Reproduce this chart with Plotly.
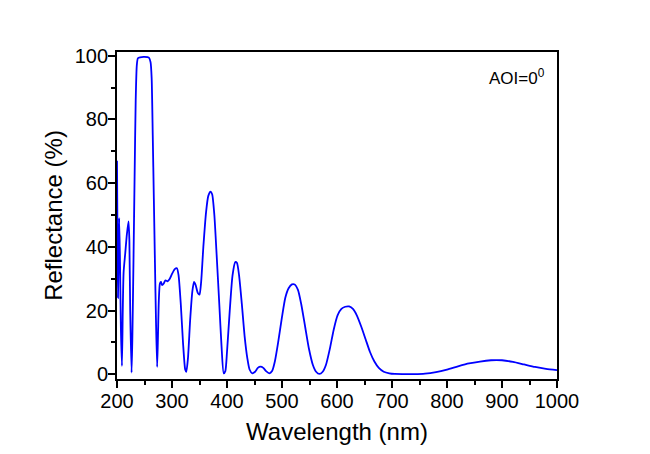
import plotly.graph_objects as go

wavelength = [200, 201, 201.8, 203, 204, 205.5, 207, 209, 210.5, 212, 215, 218, 221, 222.5, 224, 226.5,
              228, 230, 232, 234, 236, 238, 242, 250, 258, 261, 263, 265, 267, 269, 271, 273,
              274.5, 276, 278, 280, 282, 285, 288, 292, 296, 300, 305, 309, 312, 316, 320, 324, 326,
              329, 333, 337, 340, 343, 347, 350, 353, 357, 362, 366, 370, 373, 377, 381, 386, 390, 394,
              397, 400, 405, 410, 415, 418, 422, 427, 432, 437, 441, 446, 451, 456, 461, 466, 471, 477,
              482, 487, 493, 500, 506, 512, 518, 523, 529, 535, 542, 549, 556, 562, 568, 574, 580, 587,
              594, 601, 608, 615, 622, 629, 636, 644, 652, 660, 668, 676, 685, 695, 705, 720, 740, 760,
              780, 800, 820, 840, 860, 880, 890, 900, 920, 940, 960, 980, 1000]
reflectance = [67, 40, 24, 40, 49, 35, 15, 2.6, 20, 32, 38, 44, 48, 42, 20, 0.5,
               12, 36, 62, 86, 97, 99.2, 99.5, 99.6, 99.4, 98, 93, 75, 55, 35, 16, 2.3,
               12, 23, 28.5, 29, 28, 28.5, 29.5, 29.2, 30, 31.5, 33, 33.3, 31, 22, 10, 1.5, 0.8,
               5, 17, 26, 29, 28, 25.5, 25, 29, 40, 51, 56, 57.3, 56.5, 50, 38, 22, 9, 0.3,
               1, 7, 20, 31, 35.2, 35, 31, 22, 12, 5, 1.5, 0.3, 0.8, 2, 2.4, 2, 1, 0.3,
               1, 4, 10, 18, 24, 27, 28.2, 28.2, 26.5, 22, 15, 8, 3, 0.8, 0.1, 0.8, 3, 8,
               14, 18.5, 20.5, 21.2, 21.3, 20.5, 18.5, 15, 11, 7, 4, 2, 0.8, 0.3, 0.1, 0.05, 0.05, 0.2,
               0.7, 1.5, 2.5, 3.4, 4.0, 4.4, 4.45, 4.4, 3.9, 3.1, 2.3, 1.7, 1.3]

x_ticks = [200, 300, 400, 500, 600, 700, 800, 900, 1000]
y_ticks = [0, 20, 40, 60, 80, 100]

FONT = "Liberation Sans, Arial, sans-serif"

fig = go.Figure()
fig.add_trace(go.Scatter(x=wavelength, y=reflectance, mode="lines",
                         line=dict(color="#0000FF", width=1.8, shape="spline", smoothing=0.6),
                         showlegend=False))

axis_common = dict(showline=True, linecolor="black", linewidth=1.8, mirror=True,
                   ticks="outside", ticklen=7, tickwidth=1.5, tickcolor="black",
                   showgrid=False, zeroline=False, ticklabelstandoff=-4, automargin=False,
                   tickfont=dict(family=FONT, size=20, color="black"))

fig.update_xaxes(range=[200, 1000], tickvals=x_ticks,
                 minor=dict(ticks="outside", ticklen=4, tickwidth=1.5, tickcolor="black", dtick=50),
                 title=dict(text="Wavelength (nm)", font=dict(family=FONT, size=24, color="black"), standoff=12),
                 **axis_common)
fig.update_yaxes(range=[-1.48, 101.16], tickvals=y_ticks,
                 minor=dict(ticks="outside", ticklen=4, tickwidth=1.5, tickcolor="black", dtick=10),
                 title=dict(text="Reflectance (%)", font=dict(family=FONT, size=24, color="black"), standoff=5),
                 **axis_common)

fig.add_annotation(x=0.977, y=0.925, xref="paper", yref="paper", xanchor="right", yanchor="middle",
                   text="AOI=0<sup>0</sup>", showarrow=False,
                   font=dict(family=FONT, size=17, color="black"))

fig.update_layout(width=634, height=438, margin=dict(l=109, r=85, t=44, b=67),
                  paper_bgcolor="white", plot_bgcolor="white")

fig.write_html("out.html")
